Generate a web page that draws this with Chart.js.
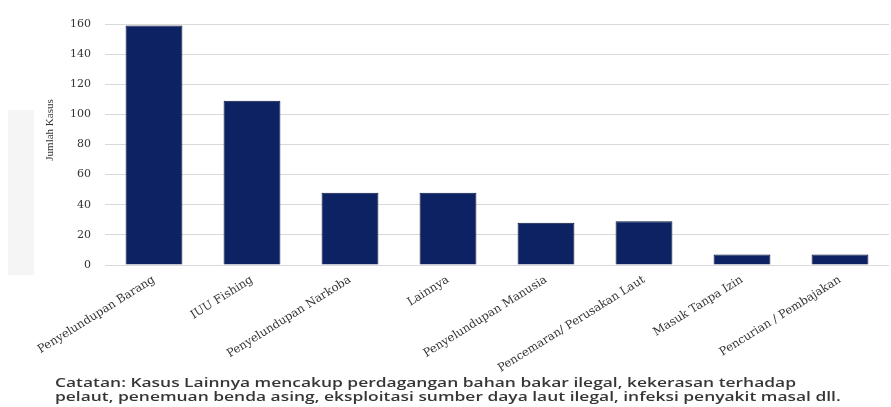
<!DOCTYPE html>
<html>
<head>
<meta charset="utf-8">
<script src="https://cdn.jsdelivr.net/npm/chart.js@4"></script>
<style>
  html, body { margin: 0; padding: 0; background: #ffffff; }
  #wrap { position: relative; width: 891px; height: 407px; overflow: hidden; }
  #shade { position: absolute; left: 8px; top: 110px; width: 26px; height: 165px; background: #f5f5f5; }
  #cv { position: absolute; left: 0; top: 0; }
  #note { position: absolute; left: 55px; top: 376px; font-family: "Open Sans", sans-serif; font-weight: 600; font-size: 12px; line-height: 13.5px; color: #363636; white-space: nowrap; transform-origin: 0 0; transform: scaleX(1.45); }
</style>
</head>
<body>
<div id="wrap">
  <div id="shade"></div>
  <canvas id="cv" width="891" height="375"></canvas>
  <div id="note">Catatan: Kasus Lainnya mencakup perdagangan bahan bakar ilegal, kekerasan terhadap<br>pelaut, penemuan benda asing, eksploitasi sumber daya laut ilegal, infeksi penyakit masal dll.</div>
</div>
<script>
const categories = [
  "Penyelundupan Barang",
  "IUU Fishing",
  "Penyelundupan Narkoba",
  "Lainnya",
  "Penyelundupan Manusia",
  "Pencemaran/ Perusakan Laut",
  "Masuk Tanpa Izin",
  "Pencurian / Pembajakan"
];
const jumlahKasus = [159, 109, 48, 48, 28, 29, 7, 7];
const yTicks = [0, 20, 40, 60, 80, 100, 120, 140, 160];
const yTitle = "Jumlah Kasus";

const yTitlePlugin = {
  id: 'yTitlePlugin',
  afterDraw(chart) {
    const ctx = chart.ctx;
    ctx.save();
    ctx.translate(50, 130);
    ctx.rotate(-Math.PI / 2);
    ctx.font = '11px "Liberation Serif", serif';
    ctx.fillStyle = '#333333';
    ctx.textAlign = 'center';
    ctx.textBaseline = 'middle';
    ctx.fillText(yTitle, 0, 0);
    ctx.restore();
  }
};

new Chart(document.getElementById('cv'), {
  type: 'bar',
  data: {
    labels: categories,
    datasets: [{
      data: jumlahKasus,
      backgroundColor: '#0c2262',
      borderColor: '#06143f',
      borderWidth: 1,
      barPercentage: 0.58,
      categoryPercentage: 1.0
    }]
  },
  options: {
    responsive: false,
    animation: false,
    layout: { padding: { left: 40, right: 2, top: 24, bottom: 0 } },
    plugins: { legend: { display: false }, tooltip: { enabled: false } },
    scales: {
      x: {
        grid: { display: false },
        border: { display: false },
        ticks: {
          autoSkip: false,
          minRotation: 32,
          maxRotation: 32,
          padding: 0,
          color: '#333333',
          font: { family: '"DejaVu Serif", serif', size: 11.5 }
        },
        afterFit(scale) { scale.height = 110; }
      },
      y: {
        min: 0,
        max: 160,
        afterBuildTicks(scale) { scale.ticks = yTicks.map(v => ({ value: v })); },
        grid: { color: '#d9d9d9', lineWidth: 1, drawTicks: false },
        border: { display: false },
        ticks: {
          padding: 14,
          color: '#333333',
          font: { family: '"DejaVu Serif", serif', size: 11 }
        },
        afterFit(scale) { scale.width = 65; }
      }
    }
  },
  plugins: [yTitlePlugin]
});
</script>
</body>
</html>
